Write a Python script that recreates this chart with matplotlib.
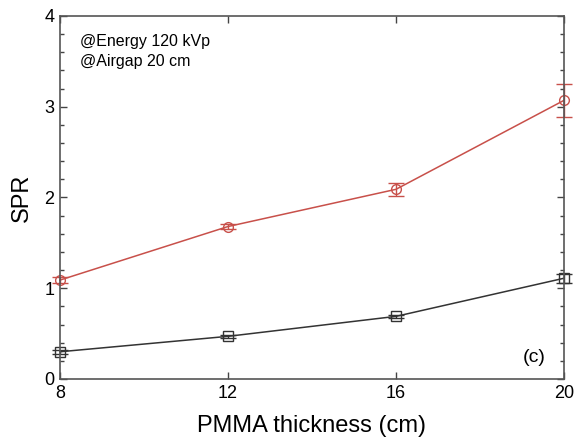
import matplotlib
matplotlib.use("Agg")
import matplotlib.pyplot as plt
from matplotlib.ticker import MultipleLocator

plt.rcParams["font.family"] = ["Liberation Sans", "DejaVu Sans"]

thickness = [8, 12, 16, 20]
spr_red = [1.09, 1.68, 2.09, 3.07]
err_red = [0.03, 0.03, 0.07, 0.18]
spr_black = [0.30, 0.47, 0.69, 1.11]
err_black = [0.02, 0.02, 0.02, 0.05]

fig = plt.figure(figsize=(5.85, 4.43), dpi=100)
ax = fig.add_axes([0.1026, 0.1445, 0.8614, 0.8194])

for y, e, c, m in [(spr_red, err_red, "#c8504a", "o"), (spr_black, err_black, "#333333", "s")]:
    lines = ax.errorbar(thickness, y, yerr=e, color=c, marker=m,
                        markersize=7, markerfacecolor="none", markeredgewidth=1.0,
                        linewidth=1.1, capsize=6, elinewidth=1.0, capthick=1.0)
    for art in lines.get_children():
        art.set_clip_on(False)

ax.set_xlim(8, 20)
ax.set_ylim(0, 4)
ax.set_xticks(thickness)
ax.yaxis.set_major_locator(MultipleLocator(1))
ax.yaxis.set_minor_locator(MultipleLocator(0.2))
ax.tick_params(which="both", direction="in", top=True, right=True, labelsize=13,
               color="#444444", width=1.0)
ax.tick_params(which="major", length=5, pad=4)
ax.tick_params(which="minor", length=3)
for s in ax.spines.values():
    s.set_color("#555555")
    s.set_linewidth(1.2)

ax.set_xlabel("PMMA thickness (cm)", fontsize=17, labelpad=10)
ax.set_ylabel("SPR", fontsize=17, labelpad=8)

ax.text(0.04, 0.93, "@Energy 120 kVp", transform=ax.transAxes, fontsize=11.5, va="center")
ax.text(0.04, 0.875, "@Airgap 20 cm", transform=ax.transAxes, fontsize=11.5, va="center")
ax.text(0.94, 0.06, "(c)", transform=ax.transAxes, fontsize=14, ha="center", va="center")

fig.savefig("out.png", dpi=100)
